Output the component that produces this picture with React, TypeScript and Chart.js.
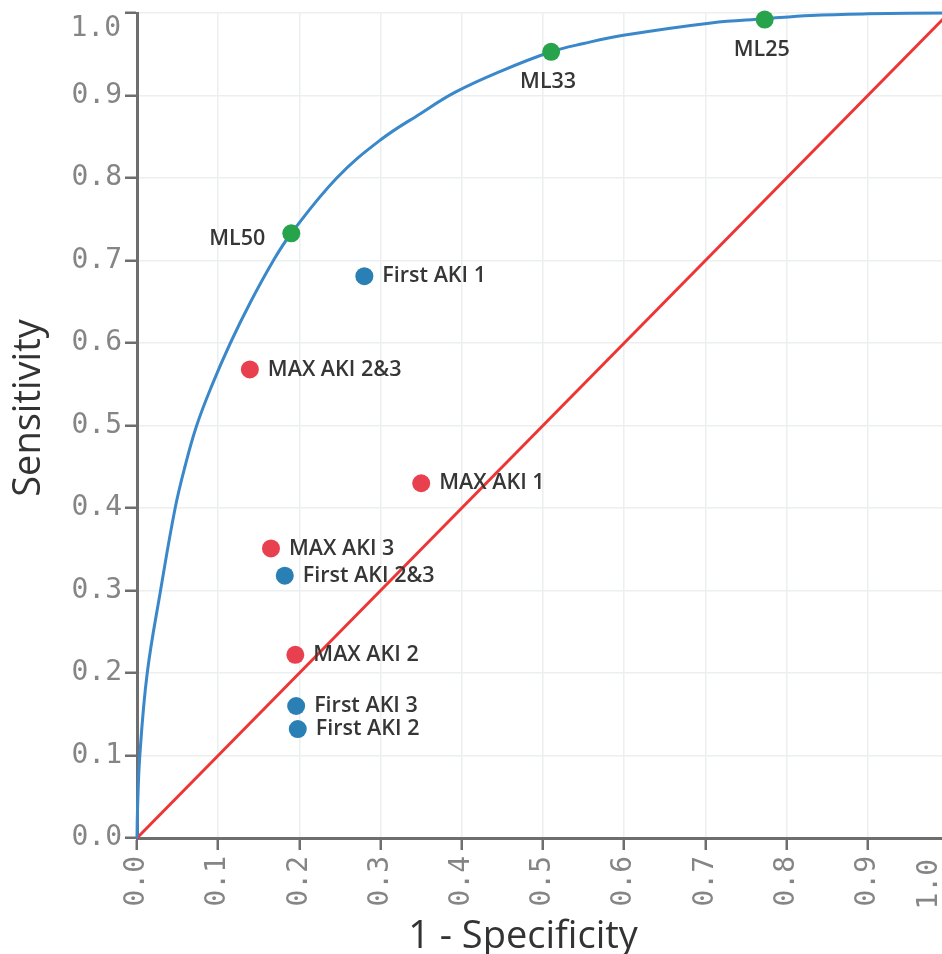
import React, { useEffect, useRef } from "react";
import { Chart, registerables } from "chart.js";

Chart.register(...registerables);

// ROC curve (1 - specificity, sensitivity)
const rocFpr = [0, 0.0005, 0.0035, 0.0126, 0.029, 0.047, 0.059, 0.0735, 0.092, 0.115, 0.14, 0.168, 0.19, 0.246, 0.2997, 0.349, 0.392, 0.447, 0.51, 0.55, 0.599, 0.707, 0.773, 0.83, 0.9, 1.0];
const rocTpr = [0, 0.03, 0.1, 0.2, 0.3, 0.4, 0.45, 0.5, 0.548, 0.6, 0.65, 0.7, 0.733, 0.8, 0.846, 0.878, 0.904, 0.929, 0.953, 0.963, 0.973, 0.988, 0.993, 0.997, 0.999, 1.0];

// reference (chance) line
const diagFpr = [0, 1];
const diagTpr = [0, 1];

// ML thresholds (green)
const mlLabels = ["ML50", "ML33", "ML25"];
const mlFpr = [0.19, 0.51, 0.773];
const mlTpr = [0.733, 0.953, 0.992];

// MAX AKI (red)
const maxLabels = ["MAX AKI 2&3", "MAX AKI 1", "MAX AKI 3", "MAX AKI 2"];
const maxFpr = [0.139, 0.35, 0.165, 0.195];
const maxTpr = [0.568, 0.43, 0.351, 0.222];

// First AKI (blue)
const firstLabels = ["First AKI 1", "First AKI 2&3", "First AKI 3", "First AKI 2"];
const firstFpr = [0.28, 0.182, 0.196, 0.198];
const firstTpr = [0.681, 0.318, 0.16, 0.132];

const xTicks = [0, 0.1, 0.2, 0.3, 0.4, 0.5, 0.6, 0.7, 0.8, 0.9, 1.0];
const xTitle = "1 - Specificity";
const yTitle = "Sensitivity";

const toPts = (xs: number[], ys: number[]) => xs.map((x, i) => ({ x, y: ys[i] }));

const MONO = '"DejaVu Sans Mono", monospace';
const SANS = '"Open Sans", sans-serif';
const TICK_COLOR = "#858585";

export default function App() {
  const ref = useRef<HTMLCanvasElement | null>(null);

  useEffect(() => {
    const canvas = ref.current;
    if (!canvas) return;

    const labelPlugin = {
      id: "pointLabels",
      afterDatasetsDraw(chart: any) {
        const ctx = chart.ctx;
        ctx.save();
        ctx.fillStyle = "#363636";
        ctx.font = `600 21.5px ${SANS}`;
        chart.data.datasets.forEach((ds: any, di: number) => {
          if (!ds.pointNames) return;
          const meta = chart.getDatasetMeta(di);
          meta.data.forEach((el: any, i: number) => {
            const name = ds.pointNames[i];
            let side = "right";
            if (name === "ML50") side = "left";
            else if (name === "ML33" || name === "ML25") side = "below";
            if (side === "right") {
              ctx.textAlign = "left";
              ctx.textBaseline = "middle";
              ctx.fillText(name, el.x + 18, el.y);
            } else if (side === "left") {
              ctx.textAlign = "right";
              ctx.textBaseline = "middle";
              ctx.fillText(name, el.x - 26, el.y + 6);
            } else {
              ctx.textAlign = "center";
              ctx.textBaseline = "middle";
              ctx.fillText(name, el.x - 3, el.y + 30);
            }
          });
        });
        ctx.restore();
      },
      afterDraw(chart: any) {
        const ctx = chart.ctx;
        ctx.save();
        // last tick labels (kept inside the view)
        ctx.fillStyle = TICK_COLOR;
        ctx.font = `28px ${MONO}`;
        ctx.textAlign = "right";
        ctx.textBaseline = "middle";
        ctx.fillText(xTicks[xTicks.length - 1].toFixed(1), 121, 29);
        ctx.save();
        ctx.translate(930, 859);
        ctx.rotate(-Math.PI / 2);
        ctx.textAlign = "right";
        ctx.textBaseline = "middle";
        ctx.fillText(xTicks[xTicks.length - 1].toFixed(1), 0, 0);
        ctx.restore();
        // axis titles
        ctx.fillStyle = "#333333";
        ctx.font = `38px ${SANS}`;
        ctx.textAlign = "center";
        ctx.textBaseline = "alphabetic";
        ctx.fillText(xTitle, 523, 948);
        ctx.save();
        ctx.translate(40, 408);
        ctx.rotate(-Math.PI / 2);
        ctx.fillText(yTitle, 0, 0);
        ctx.restore();
        ctx.restore();
      },
    };

    const hideLast = (c: any) =>
      c.tick && Math.abs(c.tick.value - 1) < 1e-6 ? "rgba(0,0,0,0)" : TICK_COLOR;

    const chart = new Chart(canvas, {
      type: "scatter",
      data: {
        datasets: [
          {
            label: "ML",
            data: toPts(mlFpr, mlTpr),
            pointNames: mlLabels,
            backgroundColor: "#27a34b",
            borderColor: "#27a34b",
            pointRadius: 9,
            pointBorderWidth: 0,
            clip: false,
          } as any,
          {
            label: "MAX AKI",
            data: toPts(maxFpr, maxTpr),
            pointNames: maxLabels,
            backgroundColor: "#e8404f",
            borderColor: "#e8404f",
            pointRadius: 9,
            pointBorderWidth: 0,
            clip: false,
          } as any,
          {
            label: "First AKI",
            data: toPts(firstFpr, firstTpr),
            pointNames: firstLabels,
            backgroundColor: "#2a7fb5",
            borderColor: "#2a7fb5",
            pointRadius: 9,
            pointBorderWidth: 0,
            clip: false,
          } as any,
          {
            label: "ROC",
            type: "line",
            data: toPts(rocFpr, rocTpr),
            borderColor: "#3a88c9",
            borderWidth: 3,
            pointRadius: 0,
            fill: false,
            tension: 0.4,
            clip: 6,
          } as any,
          {
            label: "Chance",
            type: "line",
            data: toPts(diagFpr, diagTpr),
            borderColor: "#ee3535",
            borderWidth: 3,
            pointRadius: 0,
            fill: false,
            clip: 6,
          } as any,
        ],
      },
      options: {
        animation: false,
        responsive: false,
        devicePixelRatio: 1,
        layout: { padding: { left: 0, top: 13, right: 11, bottom: 0 } },
        plugins: {
          legend: { display: false },
          tooltip: { enabled: false },
          title: { display: false },
        },
        scales: {
          x: {
            type: "linear",
            min: 0,
            max: 1,
            afterBuildTicks: (s: any) => {
              s.ticks = xTicks.map((v) => ({ value: v }));
            },
            ticks: {
              callback: (v: any) => Number(v).toFixed(1),
              minRotation: 90,
              maxRotation: 90,
              autoSkip: false,
              padding: 6,
              color: hideLast,
              font: { family: MONO, size: 28 },
            },
            grid: {
              color: "#eceff0",
              lineWidth: 1.5,
              tickLength: 12,
              tickColor: "#6e6e6e",
              tickWidth: 2.5,
            },
            border: { color: "#6e6e6e", width: 3 },
            afterFit: (s: any) => {
              s.height = 116;
              s.paddingLeft = 0;
              s.paddingRight = 0;
            },
          },
          y: {
            type: "linear",
            min: 0,
            max: 1,
            afterBuildTicks: (s: any) => {
              s.ticks = xTicks.map((v) => ({ value: v }));
            },
            ticks: {
              callback: (v: any) => Number(v).toFixed(1),
              autoSkip: false,
              padding: 3,
              color: hideLast,
              font: { family: MONO, size: 28 },
            },
            grid: {
              color: "#eceff0",
              lineWidth: 1.5,
              tickLength: 12,
              tickColor: "#6e6e6e",
              tickWidth: 2.5,
            },
            border: { color: "#6e6e6e", width: 3 },
            afterFit: (s: any) => {
              s.width = 137;
              s.paddingTop = 0;
              s.paddingBottom = 0;
            },
          },
        },
      } as any,
      plugins: [labelPlugin],
    });

    return () => chart.destroy();
  }, []);

  return (
    <div
      style={{
        position: "absolute",
        left: 0,
        top: 0,
        width: 942,
        height: 954,
        overflow: "hidden",
        background: "#ffffff",
      }}
    >
      <canvas ref={ref} width={960} height={954} style={{ display: "block", width: 960, height: 954 }} />
    </div>
  );
}
